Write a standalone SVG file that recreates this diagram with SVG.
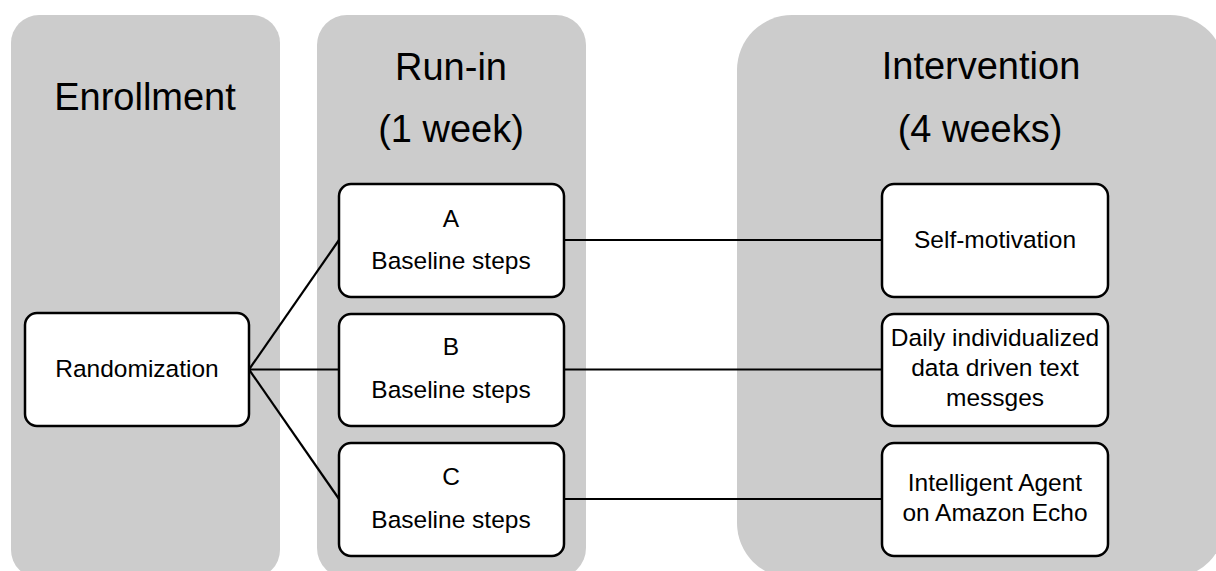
<svg xmlns="http://www.w3.org/2000/svg" width="1216" height="571" viewBox="0 0 1216 571">
<style>
.panel{fill:#cccccc;stroke:none}
.box{fill:#ffffff;stroke:#000000;stroke-width:2.5}
.conn{stroke:#000000;stroke-width:2.2;fill:none}
.h{font-family:"Liberation Sans",Arial,sans-serif;font-size:38px;fill:#000;text-anchor:middle}
.t{font-family:"Liberation Sans",Arial,sans-serif;font-size:24.5px;fill:#000;text-anchor:middle}
</style>
<rect width="1216" height="571" fill="#ffffff"/>
<g id="panel-enrollment">
<rect class="panel" x="11" y="15" width="269" height="563" rx="28"/>
<text class="h" x="145" y="110">Enrollment</text>
</g>
<g id="panel-runin">
<rect class="panel" x="317" y="15" width="269" height="563" rx="30"/>
<text class="h" x="451" y="80">Run-in</text>
<text class="h" x="451" y="142">(1 week)</text>
</g>
<g id="panel-intervention">
<rect class="panel" x="737" y="15" width="488" height="563" rx="55"/>
<text class="h" x="981" y="79">Intervention</text>
<text class="h" x="980" y="142">(4 weeks)</text>
</g>
<g id="connectors">
<line class="conn" x1="249" y1="369.5" x2="339" y2="240"/>
<line class="conn" x1="249" y1="369.5" x2="339" y2="369.5"/>
<line class="conn" x1="249" y1="369.5" x2="339" y2="499"/>
<line class="conn" x1="564" y1="240" x2="882" y2="240"/>
<line class="conn" x1="564" y1="369.5" x2="882" y2="369.5"/>
<line class="conn" x1="564" y1="499" x2="882" y2="499"/>
</g>
<g id="node-randomization">
<rect class="box" x="25" y="313" width="224" height="113" rx="12"/>
<text class="t" x="137" y="377">Randomization</text>
</g>
<g id="node-a">
<rect class="box" x="339" y="184" width="225" height="113" rx="12"/>
<text class="t" x="451" y="227">A</text>
<text class="t" x="451" y="269">Baseline steps</text>
</g>
<g id="node-b">
<rect class="box" x="339" y="314" width="225" height="112" rx="12"/>
<text class="t" x="451" y="355">B</text>
<text class="t" x="451" y="398">Baseline steps</text>
</g>
<g id="node-c">
<rect class="box" x="339" y="443" width="225" height="113" rx="12"/>
<text class="t" x="451" y="485">C</text>
<text class="t" x="451" y="528">Baseline steps</text>
</g>
<g id="node-self">
<rect class="box" x="882" y="184" width="226" height="113" rx="12"/>
<text class="t" x="995" y="248">Self-motivation</text>
</g>
<g id="node-daily">
<rect class="box" x="882" y="314" width="226" height="112" rx="12"/>
<text class="t" x="995" y="346">Daily individualized</text>
<text class="t" x="995" y="376">data driven text</text>
<text class="t" x="995" y="406">messges</text>
</g>
<g id="node-agent">
<rect class="box" x="882" y="443" width="226" height="113" rx="12"/>
<text class="t" x="995" y="491">Intelligent Agent</text>
<text class="t" x="995" y="521">on Amazon Echo</text>
</g>
</svg>
